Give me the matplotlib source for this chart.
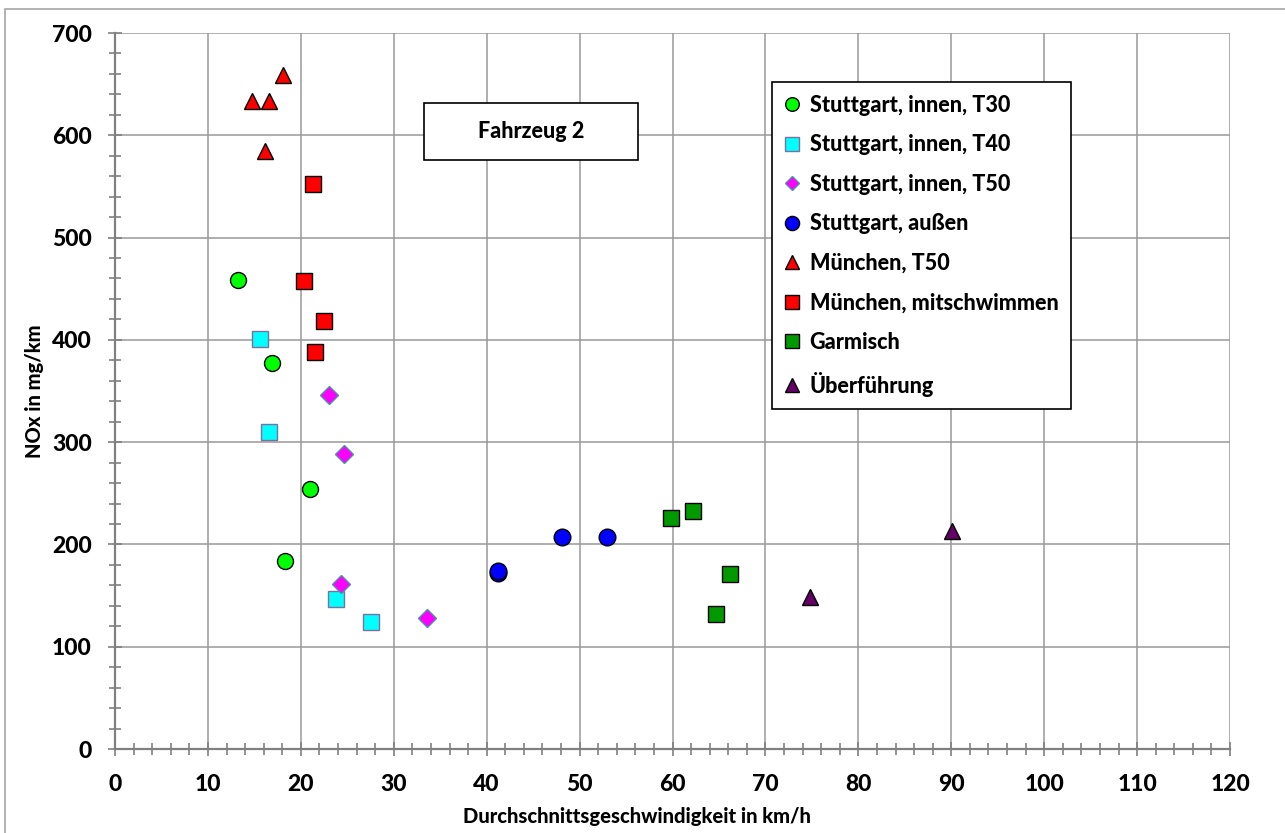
import matplotlib
matplotlib.use("Agg")
import matplotlib.pyplot as plt
from matplotlib.patches import Rectangle
from matplotlib.ticker import MultipleLocator

plt.rcParams['font.family'] = ['Lato', 'DejaVu Sans']
plt.rcParams['font.weight'] = 'black'

# Werte (km/h, mg/km)
t30_x = [13.2, 16.85, 21.0, 18.3]
t30_y = [459, 377, 254, 184]
t40_x = [15.6, 16.6, 23.8, 27.6]
t40_y = [401, 310, 147, 124]
t50_x = [23.05, 24.6, 24.3, 33.55]
t50_y = [346, 288, 161, 128]
aussen_x = [41.25, 41.25, 48.1, 53.0]
aussen_y = [172, 174, 207, 207]
muc_t50_x = [18.1, 14.75, 16.55, 16.15]
muc_t50_y = [659, 634, 634, 585]
muc_mit_x = [21.35, 20.3, 22.5, 21.5]
muc_mit_y = [552, 458, 418, 388]
garmisch_x = [59.8, 62.2, 66.2, 64.7]
garmisch_y = [226, 233, 171, 132]
ueber_x = [74.8, 90.1]
ueber_y = [149, 213]

W, H = 1285, 833
fig = plt.figure(figsize=(W / 100, H / 100), dpi=100)
ax = fig.add_axes([115 / W, 1 - 749 / H, (1230 - 115) / W, (749 - 33) / H])

def px(x, y):
    return (x / W, 1 - y / H)

# Rahmen um die Grafik (rechts/unten abgeschnitten)
fig.patches.append(Rectangle((5 / W, -0.1), 1.2, 1.1 - 9 / H, transform=fig.transFigure,
                             fill=False, edgecolor='#a6a6a6', linewidth=1.2))

ax.plot(t30_x, t30_y, 'o', ms=11.5, mfc='#00ff00', mec='black', mew=1.0, label='Stuttgart, innen, T30')
ax.plot(t40_x, t40_y, 's', ms=11.5, mfc='#00ffff', mec='#7f6f9f', mew=1.0, label='Stuttgart, innen, T40')
ax.plot(t50_x, t50_y, 'D', ms=8.8, mfc='#ff00ff', mec='#4f8fa8', mew=1.0, label='Stuttgart, innen, T50')
ax.plot(aussen_x, aussen_y, 'o', ms=12, mfc='#0000ff', mec='black', mew=1.0, label='Stuttgart, außen')
ax.plot(muc_t50_x, muc_t50_y, '^', ms=11.3, mfc='#ff0000', mec='black', mew=1.0, label='München, T50')
ax.plot(muc_mit_x, muc_mit_y, 's', ms=12, mfc='#ff0000', mec='black', mew=1.0, label='München, mitschwimmen')
ax.plot(garmisch_x, garmisch_y, 's', ms=11.5, mfc='#009900', mec='black', mew=1.0, label='Garmisch')
ax.plot(ueber_x, ueber_y, '^', ms=11.8, mfc='#660066', mec='black', mew=1.0, label='Überführung')

ax.set_xlim(0, 120)
ax.set_ylim(0, 700)
ax.xaxis.set_major_locator(MultipleLocator(10))
ax.xaxis.set_minor_locator(MultipleLocator(2))
ax.yaxis.set_major_locator(MultipleLocator(100))
ax.yaxis.set_minor_locator(MultipleLocator(20))
ax.grid(True, which='major', color='#999999', linewidth=1.1)
ax.set_axisbelow(True)
for s in ['top', 'right']:
    ax.spines[s].set_visible(False)
for s in ['left', 'bottom']:
    ax.spines[s].set_color('#808080')
    ax.spines[s].set_linewidth(1.6)
    ax.spines[s].set_zorder(3)
ax.tick_params(which='both', direction='inout', color='#808080', width=1.2)
ax.tick_params(which='major', length=9.5, labelsize=16.5)
ax.tick_params(which='minor', length=8)
ax.tick_params(axis='y', which='major', pad=12)
ax.tick_params(axis='x', which='major', pad=13)

fig.text(637 / W, 1 - 817 / H, 'Durchschnittsgeschwindigkeit in km/h', ha='center', va='center',
         fontsize=14.5)
fig.text(34 / W, 1 - 391 / H, 'NOx in mg/km', ha='center', va='center', rotation=90,
         fontsize=14.5)

# Textfeld
fig.patches.append(Rectangle(px(424, 160), (638 - 424) / W, (160 - 103) / H, transform=fig.transFigure,
                             facecolor='white', edgecolor='black', linewidth=1.2, zorder=5))
fig.text(531 / W, 1 - 132 / H, 'Fahrzeug 2', ha='center', va='center', fontsize=15.5, zorder=6)

leg = ax.legend(loc='upper left', bbox_to_anchor=px(772, 82), bbox_transform=fig.transFigure,
                borderaxespad=0, fancybox=False, framealpha=1, edgecolor='black',
                fontsize=15.5, labelspacing=0.86, handlelength=0.7, handletextpad=0.45,
                borderpad=0.6, markerscale=0.85)
leg.get_frame().set_linewidth(1.2)

fig.savefig('out.png', dpi=100)
